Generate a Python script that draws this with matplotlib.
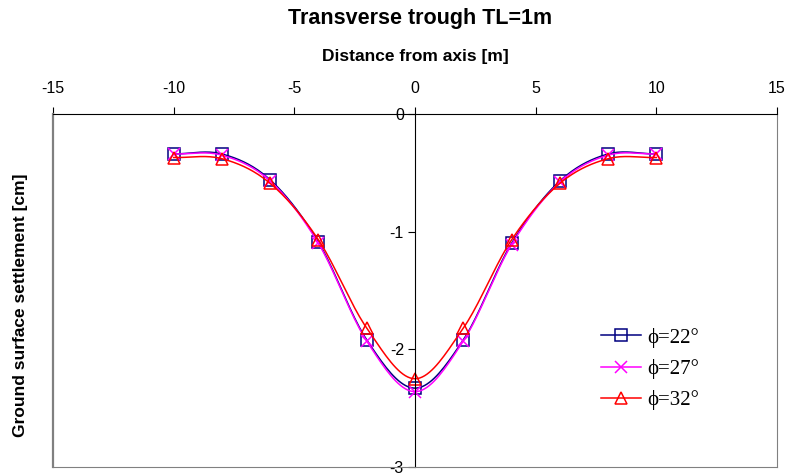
import numpy as np
import matplotlib.pyplot as plt
from matplotlib.lines import Line2D

# distances from axis [m]
dist = [-10, -8, -6, -4, -2, 0, 2, 4, 6, 8, 10]

# settlements [cm]
phi22 = [-0.34, -0.34, -0.56, -1.09, -1.92, -2.33, -1.92, -1.10, -0.57, -0.34, -0.34]
phi27 = [-0.34, -0.35, -0.57, -1.10, -1.93, -2.36, -1.93, -1.11, -0.58, -0.35, -0.34]
phi32 = [-0.37, -0.38, -0.59, -1.07, -1.82, -2.25, -1.82, -1.07, -0.59, -0.38, -0.37]

labels = ["\u03d5=22\u00b0", "\u03d5=27\u00b0", "\u03d5=32\u00b0"]
colors = ["#000080", "#ff00ff", "#ff0000"]
markers = ["s", "x", "^"]


def smooth(x, y, n=20):
    # catmull-rom, roughly what excel does for "smoothed line"
    x = np.asarray(x, float)
    y = np.asarray(y, float)
    px = np.concatenate([[2 * x[0] - x[1]], x, [2 * x[-1] - x[-2]]])
    py = np.concatenate([[2 * y[0] - y[1]], y, [2 * y[-1] - y[-2]]])
    xs, ys = [], []
    t = np.linspace(0, 1, n, endpoint=False)
    for i in range(1, len(px) - 2):
        for p, out in ((px, xs), (py, ys)):
            p0, p1, p2, p3 = p[i - 1], p[i], p[i + 1], p[i + 2]
            out.extend(0.5 * (2 * p1 + (-p0 + p2) * t
                              + (2 * p0 - 5 * p1 + 4 * p2 - p3) * t ** 2
                              + (-p0 + 3 * p1 - 3 * p2 + p3) * t ** 3))
    xs.append(x[-1])
    ys.append(y[-1])
    return xs, ys


plt.rcParams['font.family'] = ['Liberation Sans', 'DejaVu Sans']
plt.rcParams['axes.unicode_minus'] = False

fig = plt.figure(figsize=(7.89, 4.74), dpi=100)
ax = fig.add_axes([0.0672, 0.0148, 0.9176, 0.7447])

handles = []
for ys, c, m, lab in zip([phi22, phi27, phi32], colors, markers, labels):
    ms = 8 if m != 'x' else 9
    sx, sy = smooth(dist, ys)
    ax.plot(sx, sy, color=c, lw=1.1)
    ax.plot(dist, ys, ls='none', marker=m, ms=ms, mfc='none', mec=c, mew=1.1)
    handles.append(Line2D([], [], color=c, lw=1.1, marker=m, ms=ms,
                          mfc='none', mec=c, mew=1.1, label=lab))

ax.set_xlim(-15, 15)
ax.set_ylim(-3, 0)
ax.set_xticks([-15, -10, -5, 0, 5, 10, 15])
ax.set_yticks([0, -1, -2, -3])
ax.set_yticklabels(['0', '-1', '-2', '-3'])

ax.xaxis.tick_top()
ax.xaxis.set_label_position('top')
ax.tick_params(axis='x', direction='out', length=5, labelsize=11.5, pad=8, color='black')
ax.tick_params(axis='y', direction='out', length=5, labelsize=11.5, pad=3)
ax.set_xlabel("Distance from axis [m]", fontsize=12.5, fontweight='bold', labelpad=14)

ax.spines['left'].set_position(('data', 0))
ax.spines['left'].set_color('black')
ax.spines['top'].set_color('black')
ax.spines['bottom'].set_color('#808080')
ax.spines['right'].set_color('#808080')
ax.plot([0, 0], [0, 1], transform=ax.transAxes, color='#808080', lw=1.6, clip_on=False)

fig.text(0.026, 0.355, "Ground surface settlement [cm]", rotation=90, fontsize=12.5,
         fontweight='bold', ha='center', va='center')
fig.text(0.532, 0.96, "Transverse trough TL=1m", fontsize=15.5, fontweight='bold',
         ha='center', va='center')

ax.legend(handles=handles, loc='upper left', bbox_to_anchor=(0.757, 0.395), frameon=False,
          prop={'family': ['Liberation Serif', 'DejaVu Serif'], 'size': 15},
          handlelength=1.9, handletextpad=0.3, labelspacing=0.55,
          borderpad=0, borderaxespad=0)

fig.savefig("out.png", dpi=100)
